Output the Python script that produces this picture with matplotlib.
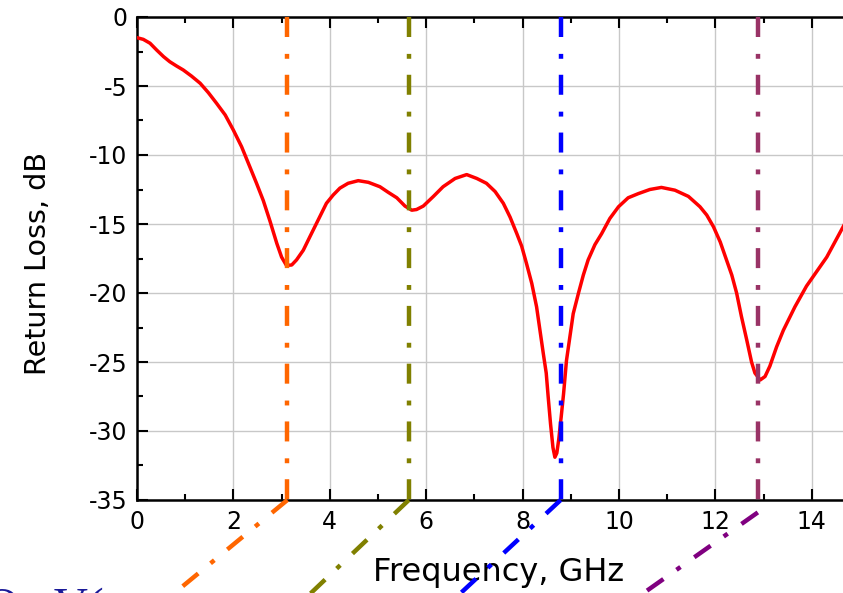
import matplotlib
matplotlib.use("Agg")
import matplotlib.pyplot as plt
from matplotlib.ticker import MultipleLocator

plt.rcParams["axes.unicode_minus"] = False
plt.rcParams["font.family"] = ["DejaVu Sans"]

# Return loss curve (GHz, dB)
freq_ghz = [0.00, 0.13, 0.27, 0.41, 0.55, 0.68, 0.82, 0.96, 1.13, 1.31,
            1.48, 1.65, 1.83, 2.00, 2.17, 2.34, 2.48, 2.62, 2.76, 2.90,
            3.00, 3.10, 3.21, 3.31, 3.45, 3.59, 3.76, 3.93, 4.07, 4.21,
            4.38, 4.59, 4.80, 5.04, 5.21, 5.39, 5.56, 5.70, 5.80, 5.94,
            6.15, 6.35, 6.60, 6.84, 7.05, 7.25, 7.43, 7.60, 7.74, 7.88,
            7.98, 8.08, 8.19, 8.29, 8.36, 8.43, 8.49, 8.53, 8.58, 8.63,
            8.67, 8.71, 8.75, 8.80, 8.85, 8.91, 8.98, 9.05, 9.16, 9.26,
            9.36, 9.50, 9.64, 9.81, 9.99, 10.19, 10.40, 10.64, 10.88, 11.16,
            11.44, 11.68, 11.82, 11.96, 12.10, 12.23, 12.34, 12.44, 12.54, 12.65,
            12.75, 12.82, 12.93, 13.03, 13.13, 13.27, 13.41, 13.65, 13.89, 14.10,
            14.31, 14.48, 14.65, 15.00]
return_loss_db = [-1.50, -1.62, -1.90, -2.40, -2.87, -3.24, -3.55, -3.84, -4.28, -4.80,
                  -5.48, -6.25, -7.10, -8.20, -9.40, -10.85, -12.05, -13.30, -14.80, -16.40,
                  -17.40, -18.00, -17.97, -17.60, -16.90, -15.90, -14.70, -13.50, -12.90, -12.40,
                  -12.05, -11.86, -11.98, -12.30, -12.70, -13.10, -13.70, -14.00, -13.95, -13.70,
                  -13.00, -12.30, -11.70, -11.42, -11.70, -12.05, -12.65, -13.50, -14.50, -15.70,
                  -16.60, -17.85, -19.30, -21.00, -22.70, -24.40, -25.80, -27.50, -29.50, -31.20,
                  -31.90, -31.60, -30.60, -29.00, -27.30, -24.90, -23.20, -21.50, -20.00, -18.70,
                  -17.60, -16.50, -15.70, -14.60, -13.75, -13.10, -12.80, -12.50, -12.35, -12.55,
                  -13.00, -13.75, -14.35, -15.20, -16.30, -17.60, -18.70, -20.00, -21.70, -23.40,
                  -25.00, -25.80, -26.30, -26.05, -25.30, -23.90, -22.70, -21.00, -19.50, -18.45,
                  -17.40, -16.30, -15.20, -12.90]

# Resonance markers and their leader lines (cut off below the axes)
marker_freqs = [3.12, 5.64, 8.79, 12.89]
marker_colors = ["#ff6600", "#808000", "#0000ff", "#993366"]
leader_start = [(3.12, -35.0), (5.64, -35.0), (8.79, -35.0), (12.88, -35.9)]
leader_end = [(0.34, -43.0), (3.23, -43.0), (6.33, -43.0), (10.00, -43.0)]
leader_colors = ["#ff6600", "#808000", "#0000ff", "#800080"]

dashdot = (0, (4.5, 3.8, 1.1, 3.6))

fig = plt.figure(figsize=(8.43, 5.93), dpi=100)
# axes run to 15 GHz, past the right edge of the picture
ax = fig.add_axes([137 / 843, 93 / 593, 723 / 843, 483 / 593])

ax.plot(freq_ghz, return_loss_db, color="#ff0000", lw=2.5, zorder=3,
        solid_joinstyle="round")

for f, c in zip(marker_freqs, marker_colors):
    ax.plot([f, f], [0, -35], color=c, lw=3.2, linestyle=dashdot,
            dash_capstyle="butt", zorder=4, clip_on=False)

for (x0, y0), (x1, y1), c in zip(leader_start, leader_end, leader_colors):
    ax.plot([x0, x1], [y0, y1], color=c, lw=3.2, linestyle=dashdot,
            dash_capstyle="butt", zorder=4, clip_on=False)

ax.set_xlim(0, 15)
ax.set_ylim(-35, 0)
ax.xaxis.set_major_locator(MultipleLocator(2))
ax.xaxis.set_minor_locator(MultipleLocator(1))
ax.yaxis.set_major_locator(MultipleLocator(5))
ax.yaxis.set_minor_locator(MultipleLocator(2.5))

ax.grid(True, which="major", color="#c8c8c8", lw=1.0)
ax.set_axisbelow(True)

ax.tick_params(which="both", direction="in", top=True, right=True,
               width=1.5, labelsize=17, pad=7)
ax.tick_params(which="major", length=8)
ax.tick_params(which="minor", length=4.5)
for s in ax.spines.values():
    s.set_linewidth(1.8)

ax.set_xlabel("Frequency, GHz", fontsize=23)
ax.set_ylabel("Return Loss, dB", fontsize=20.6)
ax.xaxis.set_label_coords(0.5, -0.118)
ax.yaxis.set_label_coords(-0.118, 0.49)

# partially visible annotation text at the bottom-left corner
fig.text(-0.018, -0.046, "O   V(", fontsize=34, color="#1a1a99",
         family=["Liberation Serif", "DejaVu Serif"], va="baseline")

fig.savefig("out.png", dpi=100)
